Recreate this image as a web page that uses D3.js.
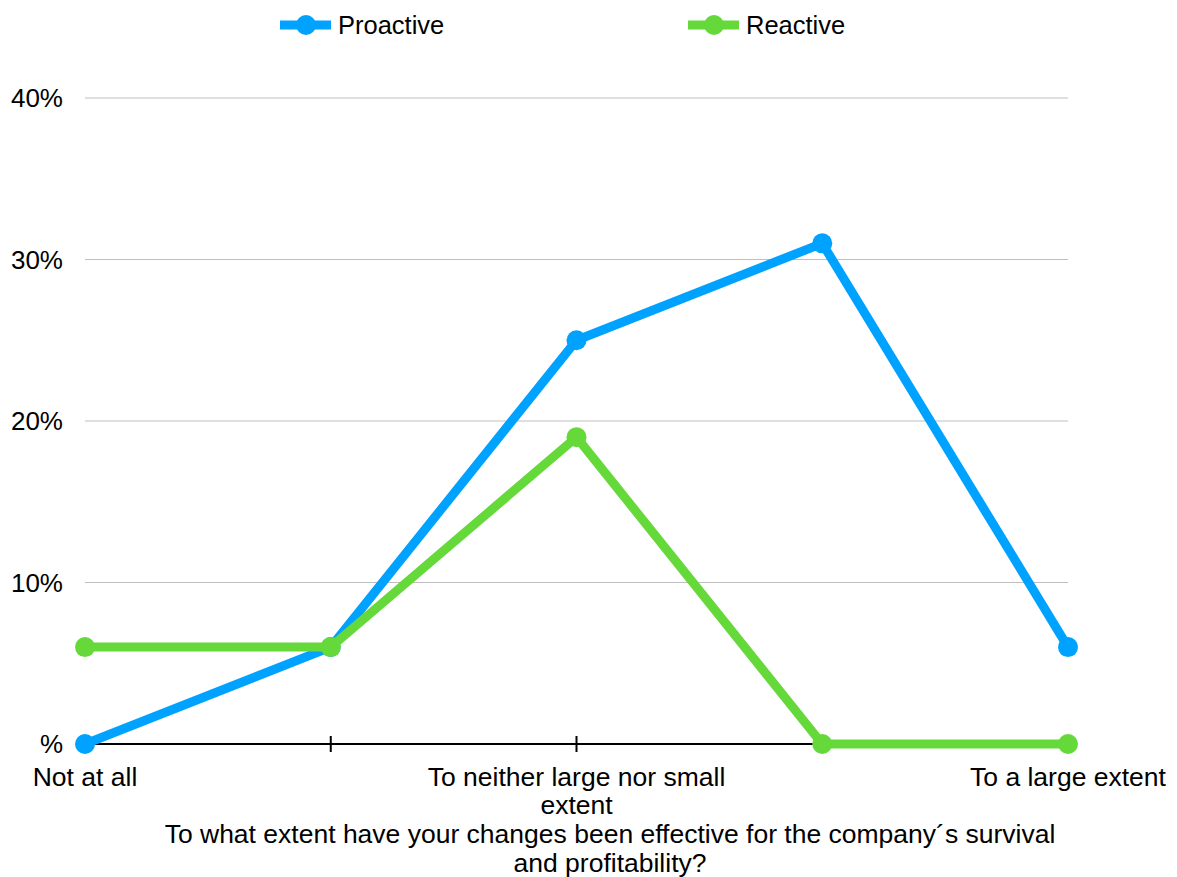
<!DOCTYPE html>
<html><head><meta charset="utf-8">
<script src="https://cdn.jsdelivr.net/npm/d3@7"></script>
<style>body{margin:0;background:#fff;} text{font-family:"Liberation Sans",Arial,sans-serif;fill:#000;}</style>
</head><body>
<svg id="c" width="1177" height="877"></svg>
<script>
const categories = ["Not at all","To a small extent","To neither large nor small extent","To some extent","To a large extent"];
const tickLabels = [["Not at all"],[],["To neither large nor small","extent"],[],["To a large extent"]];
const proactive = [0, 6, 25, 31, 6];
const reactive = [6, 6, 19, 0, 0];
const yTicks = [0, 10, 20, 30, 40];
const yTickLabels = ["%","10%","20%","30%","40%"];
const seriesNames = ["Proactive","Reactive"];
const colors = ["#00A2FF","#66D93A"];
const xTitle = ["To what extent have your changes been effective for the company\u00b4s survival","and profitability?"];

const svg = d3.select("#c");
const x = d3.scalePoint().domain(categories).range([85,1068]);
const y = d3.scaleLinear().domain([0,40]).range([744,98]);

// gridlines
svg.append("g").selectAll("line").data(yTicks.filter(d=>d>0)).join("line")
  .attr("x1",85).attr("x2",1068).attr("y1",d=>y(d)).attr("y2",d=>y(d))
  .attr("stroke","#BFBFBF").attr("stroke-width",1);

// y labels
svg.append("g").selectAll("text").data(yTicks).join("text")
  .attr("x",63).attr("y",d=>y(d)+9).attr("text-anchor","end")
  .attr("font-size",26).text((d,i)=>yTickLabels[i]);

// x axis
svg.append("line").attr("x1",85).attr("x2",1068).attr("y1",y(0)).attr("y2",y(0))
  .attr("stroke","#000").attr("stroke-width",2);
svg.append("g").selectAll("line").data(categories.slice(1,4)).join("line")
  .attr("x1",d=>x(d)).attr("x2",d=>x(d)).attr("y1",y(0)-8).attr("y2",y(0)+8)
  .attr("stroke","#000").attr("stroke-width",2);

// x labels
const xl = svg.append("g");
categories.forEach((c,i)=>{
  tickLabels[i].forEach((t,j)=>{
    xl.append("text").attr("x",x(c)).attr("y",786+j*28).attr("text-anchor","middle")
      .attr("font-size",26.5).text(t);
  });
});
xTitle.forEach((t,j)=>{
  svg.append("text").attr("x",610).attr("y",843+j*29).attr("text-anchor","middle")
    .attr("font-size",26.5).text(t);
});

// lines
const line = d3.line().x((d,i)=>x(categories[i])).y(d=>y(d));
[proactive,reactive].forEach((s,k)=>{
  svg.append("path").datum(s).attr("d",line).attr("fill","none")
    .attr("stroke",colors[k]).attr("stroke-width",9).attr("stroke-linejoin","round");
  svg.append("g").selectAll("circle").data(s).join("circle")
    .attr("cx",(d,i)=>x(categories[i])).attr("cy",d=>y(d)).attr("r",10).attr("fill",colors[k]);
});

// legend
const legX = [280, 688];
seriesNames.forEach((n,k)=>{
  const g = svg.append("g");
  g.append("line").attr("x1",legX[k]).attr("x2",legX[k]+51).attr("y1",25).attr("y2",25)
    .attr("stroke",colors[k]).attr("stroke-width",9);
  g.append("circle").attr("cx",legX[k]+26).attr("cy",25).attr("r",10).attr("fill",colors[k]);
  g.append("text").attr("x",legX[k]+58).attr("y",34).attr("font-size",25.5).text(n);
});
</script>
</body></html>
